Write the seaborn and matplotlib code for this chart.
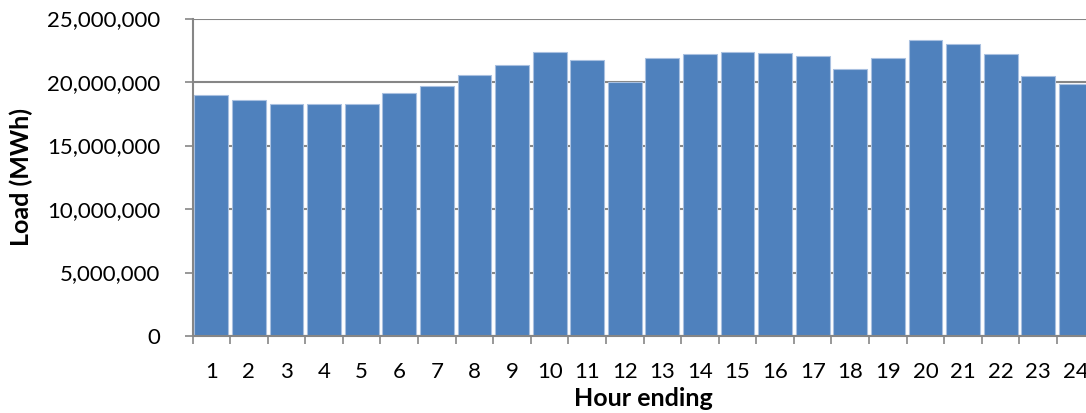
import matplotlib
matplotlib.use("Agg")
import matplotlib.pyplot as plt
from matplotlib.ticker import FuncFormatter, MultipleLocator
import seaborn as sns
import pandas as pd

hours = list(range(1, 25))
load_mwh = [
    18950000, 18600000, 18280000, 18250000, 18250000, 19100000,
    19700000, 20560000, 21370000, 22390000, 21760000, 19980000,
    21870000, 22180000, 22390000, 22290000, 22080000, 21030000,
    21870000, 23310000, 23000000, 22180000, 20460000, 19850000,
]

df = pd.DataFrame({"hour": [str(h) for h in hours], "load": load_mwh})

sns.set_theme(style="white")
plt.rcParams["font.family"] = ["Lato", "DejaVu Sans"]

fig = plt.figure(figsize=(10.86, 4.13), dpi=100)
ax = fig.add_axes([0.1773, 0.1864, 0.8306, 0.7688])

grid_color = "#868686"
ax.set_axisbelow(True)
ax.yaxis.grid(True, color=grid_color, linewidth=1.5)

sns.barplot(data=df, x="hour", y="load", color="#4F81BD", saturation=1,
            width=0.9, edgecolor="#A9C0E0", linewidth=0.8, ax=ax)

ax.set_ylim(0, 25000000)
ax.set_xlim(-0.5, 23.5)
ax.yaxis.set_major_locator(MultipleLocator(5000000))
ax.yaxis.set_major_formatter(FuncFormatter(lambda v, p: f"{int(v):,}"))

for side in ["top", "right"]:
    ax.spines[side].set_visible(False)
ax.spines["left"].set_color(grid_color)
ax.spines["left"].set_linewidth(1.5)
ax.spines["bottom"].set_color(grid_color)
ax.spines["bottom"].set_linewidth(1.5)

ax.tick_params(axis="y", which="major", direction="out", length=6, width=1.2,
               color=grid_color, left=True, pad=17, labelsize=16, labelcolor="black")
ax.xaxis.set_minor_locator(MultipleLocator(1, offset=0.5))
ax.tick_params(axis="x", which="minor", direction="out", length=6, width=1.2,
               color=grid_color, bottom=True)
ax.tick_params(axis="x", which="major", length=0, pad=18.5, labelsize=16,
               labelcolor="black")

ax.set_xlabel("Hour ending", fontsize=18, fontweight="bold", va="center",
              color="black")
ax.xaxis.set_label_coords(0.5, -0.196)
ax.set_ylabel("Load (MWh)", fontsize=18, fontweight="bold", va="center",
              color="black")
ax.yaxis.set_label_coords(-0.19, 0.5)

fig.savefig("out.png", dpi=100)
